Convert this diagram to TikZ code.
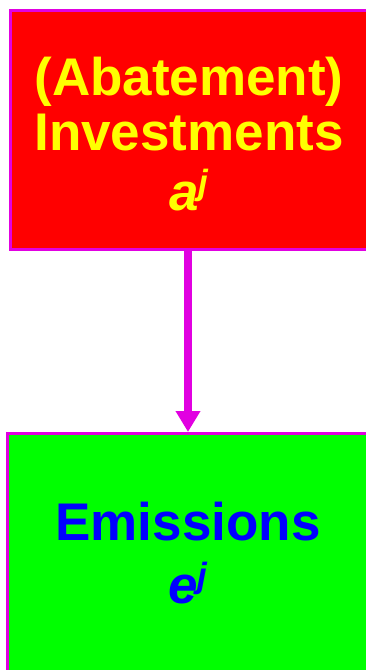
\documentclass[tikz,border=0pt]{standalone}
\usepackage{fontspec}
\setmainfont{Liberation Sans}
\usetikzlibrary{arrows.meta}

\definecolor{boxred}{RGB}{255,0,0}
\definecolor{boxgreen}{RGB}{0,255,0}
\definecolor{txtyellow}{RGB}{255,255,0}
\definecolor{txtblue}{RGB}{0,0,255}
\definecolor{edgemagenta}{RGB}{225,0,225}

\newcommand{\supidx}[1]{\raisebox{15.7pt}{\fontsize{35}{35}\selectfont\bfseries\itshape #1}}

\begin{document}
\begin{tikzpicture}[x=1pt,y=-1pt,
    blockbox/.style={draw=edgemagenta, line width=3pt, anchor=north west,
        minimum width=400pt, minimum height=238.5pt, inner sep=0pt},
    blocktext/.style={align=center, anchor=base, inner sep=0pt,
        font=\fontsize{53}{55}\selectfont\bfseries},
    flowarrow/.style={draw=edgemagenta, line width=7.5pt,
        -{Triangle[width=23.5pt,length=21pt]}}]
    \useasboundingbox (0,0) rectangle (366,670);
    \clip (0,0) rectangle (366,670);

    \node[blockbox, fill=boxred] (invest) at (9,9) {};
    \node[blockbox, fill=boxgreen] (emission) at (6,432) {};

    % base anchor sits on the last line
    \node[blocktext, text=txtyellow] (investlbl) at (189,210)
        {(Abatement)\\Investments\\[5pt]\textit{a}\supidx{j}};
    \node[blocktext, text=txtblue] (emissionlbl) at (188,603)
        {Emissions\\[8pt]\textit{e}\supidx{j}};

    \draw[flowarrow] (invest.south -| emissionlbl) -- (emission.north -| emissionlbl);
\end{tikzpicture}
\end{document}
